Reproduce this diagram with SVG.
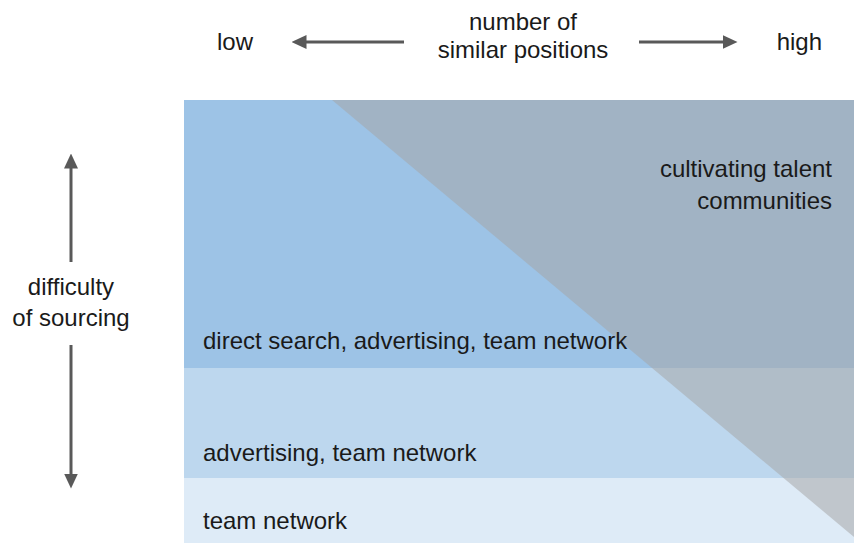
<svg xmlns="http://www.w3.org/2000/svg" width="854" height="543" viewBox="0 0 854 543">
  <defs>
    <marker id="arrow" markerUnits="userSpaceOnUse" markerWidth="15" markerHeight="14" viewBox="0 0 15 14" refX="0.5" refY="7" orient="auto">
      <path d="M0,0 L15,7 L0,14 Z" fill="#595959"/>
    </marker>
    <style>
      text { font-family: "Liberation Sans", Arial, sans-serif; font-size: 24px; fill: #1a1a1a; }
      .mid { text-anchor: middle; }
      .end { text-anchor: end; }
      .axis { stroke: #595959; stroke-width: 3; fill: none; marker-end: url(#arrow); }
    </style>
  </defs>
  <rect width="854" height="543" fill="#ffffff"/>

  <g id="band-top">
    <rect x="184" y="100" width="670" height="268" fill="#9DC3E6"/>
  </g>
  <g id="band-middle">
    <rect x="184" y="368" width="670" height="110" fill="#BDD7EE"/>
  </g>
  <g id="band-bottom">
    <rect x="184" y="478" width="670" height="65" fill="#DEEBF7"/>
  </g>
  <g id="talent-triangle">
    <polygon points="332,100 854,100 854,537" fill="#A5A5A5" fill-opacity="0.52"/>
  </g>

  <g id="labels">
    <text x="203" y="349">direct search, advertising, team network</text>
    <text x="203" y="461">advertising, team network</text>
    <text x="203" y="529">team network</text>
    <text class="end" x="832" y="177">cultivating talent</text>
    <text class="end" x="832" y="209">communities</text>
  </g>

  <g id="axis-labels">
    <text x="217" y="50">low</text>
    <text class="end" x="822" y="50">high</text>
    <text class="mid" x="523" y="30">number of</text>
    <text class="mid" x="523" y="58">similar positions</text>
    <text class="mid" x="71" y="295">difficulty</text>
    <text class="mid" x="71" y="326">of sourcing</text>
  </g>

  <g id="connectors">
    <line class="axis" x1="404" y1="42" x2="306" y2="42"/>
    <line class="axis" x1="639" y1="42" x2="723" y2="42"/>
    <line class="axis" x1="71" y1="262" x2="71" y2="168"/>
    <line class="axis" x1="71" y1="345" x2="71" y2="474"/>
  </g>
</svg>
